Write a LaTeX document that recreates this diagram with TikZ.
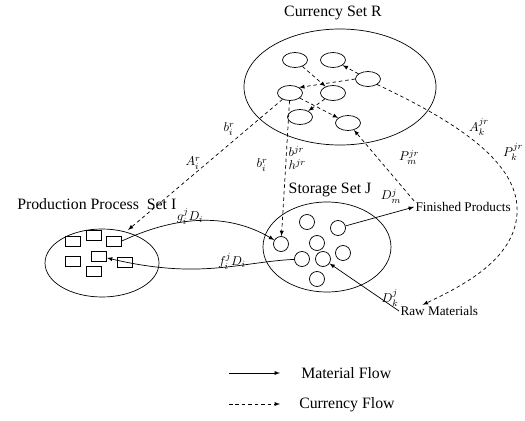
\documentclass[tikz,border=0pt]{standalone}
\usepackage{fontspec}
\setmainfont{Liberation Serif}
\usetikzlibrary{shapes.geometric}

\begin{document}
\begin{tikzpicture}[x=0.03cm,y=-0.03cm,>=latex,line width=0.6pt,
  cur/.style={->,dash pattern=on 3pt off 2.5pt},
  mat/.style={->},
  cell/.style={draw,ellipse,minimum width=0.75cm,minimum height=0.45cm,inner sep=0pt},
  tank/.style={draw,circle,minimum size=0.45cm,inner sep=0pt},
  job/.style={draw,minimum width=0.45cm,minimum height=0.3cm,inner sep=0pt},
  setname/.style={font=\fontsize{13.5}{16}\selectfont},
  ends/.style={font=\fontsize{11.3}{13}\selectfont,inner sep=1pt},
  lbl/.style={font=\fontsize{11}{13}\selectfont,inner sep=1pt}]
\useasboundingbox (0,0) rectangle (525,421);

\draw (340,87) ellipse [x radius=96,y radius=58];
\draw (327,247) ellipse [x radius=64,y radius=45];
\draw (102,263) ellipse [x radius=57,y radius=34];

\node[setname] at (333,13) {Currency Set R};
\node[setname] at (330,190) {Storage Set J};
\node[setname,anchor=west] at (13,204) {Production Process~ Set I};

\node[cell] (r1) at (295,60) {};
\node[cell] (r2) at (333,60) {};
\node[cell] (r3) at (368,79) {};
\node[cell] (r4) at (290,93) {};
\node[cell] (r5) at (333,93) {};
\node[cell] (r6) at (300,117) {};
\node[cell] (r7) at (348,123) {};

\node[tank] (s1) at (307,222) {};
\node[tank] (s2) at (338,228) {};
\node[tank] (s3) at (281,244) {};
\node[tank] (s4) at (317,243) {};
\node[tank] (s5) at (343,253) {};
\node[tank] (s6) at (302,259) {};
\node[tank] (s7) at (323,259) {};
\node[tank] (s8) at (317,279) {};

\node[job] (p1) at (73,241) {};
\node[job] (p2) at (94,235) {};
\node[job] (p3) at (114,241) {};
\node[job] (p4) at (73,261) {};
\node[job] (p5) at (99,256) {};
\node[job] (p6) at (125,262) {};
\node[job] (p7) at (94,271) {};

\node[ends,anchor=west] (fin) at (414,207) {Finished Products};
\node[ends,anchor=west] (raw) at (399,311) {Raw Materials};
\coordinate (ai) at (128,230);

\draw[cur] (r1) -- (r5);
\draw[cur] (r3) -- (r2);
\draw[cur] (r3.west) -- (r4.north east);
\draw[cur] (r5) -- (r6);
\draw[cur] (r4) -- (r7);
\draw[cur] (r4) -- (ai);
\draw[cur] (r4) -- (s3);
\draw[cur] (fin.north west) -- (r7);
\draw[cur] (r3.south east) .. controls (470,128) and (520,168) .. (517,214) .. controls (514,260) and (462,286) .. ([xshift=-0.5cm]raw.north);

\draw[mat] (p3.east) .. controls (180,214) and (230,214) .. (s3);
\draw[mat] (s6) .. controls (240,262) and (200,280) .. (p5);
\draw[mat] (s2) -- (fin.west);
\draw[mat] (raw.west) -- (s7);

\node[lbl] at (229,129) {$b_i^r$};
\node[lbl] at (193,163) {$A_i^r$};
\node[lbl] at (262,165) {$b_i^r$};
\node[lbl,align=left,anchor=west] at (287,158) {$b^{jr}$\\[-2pt]$h^{jr}$};
\node[lbl] at (409,157) {$P_m^{jr}$};
\node[lbl] at (479,127) {$A_k^{jr}$};
\node[lbl] at (513,152) {$P_k^{jr}$};
\node[lbl] at (391,196) {$D_m^j$};
\node[lbl] at (390,298) {$D_k^j$};
\node[lbl] at (190,216) {$g_i^jD_i$};
\node[lbl] at (232,261) {$f_i^jD_i$};

\coordinate (m0) at (229,373);
\coordinate (m1) at (280,373);
\coordinate (c0) at (229,404);
\coordinate (c1) at (280,404);
\draw[mat] (m0) -- (m1);
\draw[cur] (c0) -- (c1);
\node[setname,anchor=west] at (297,373) {Material Flow};
\node[setname,anchor=west] at (295,405) {Currency Flow};
\end{tikzpicture}
\end{document}
